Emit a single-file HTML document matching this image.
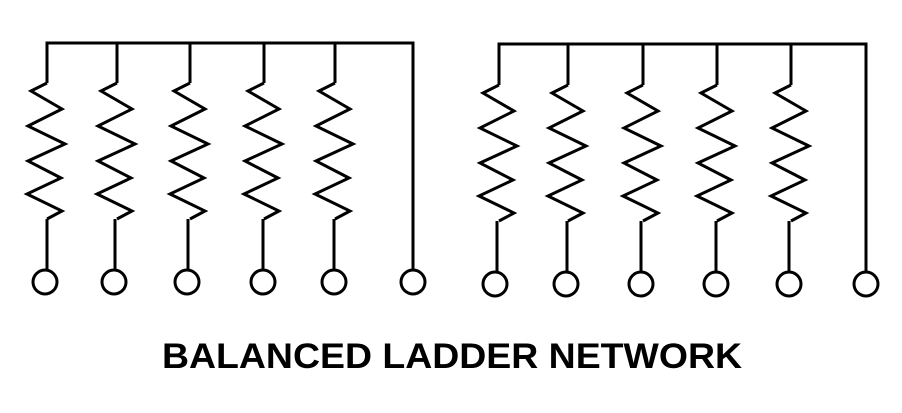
<!DOCTYPE html>
<html><head><style>html,body{margin:0;padding:0;background:#fff;}svg{display:block}</style></head>
<body>
<svg width="902" height="413" viewBox="0 0 902 413" xmlns="http://www.w3.org/2000/svg">
<defs>
<path id="r" d="M0,0 L-16,8 L15,26 L-19,43 L18,61 L-19,78 L14,95 L-20,111 L15,128 L0,136" fill="none" stroke="#000" stroke-width="3" stroke-linejoin="miter"/>
</defs>
<g fill="none" stroke="#000" stroke-width="3">
<!-- left network -->
<path d="M47,83 V43 H413 V270"/>
<path d="M117,43 V83 M190,43 V83 M264,43 V83 M335,43 V83"/>
<path d="M47,219 V270 M115,219 V270 M188,219 V270 M263,219 V270 M334,219 V270"/>
<circle cx="45" cy="282" r="12"/><circle cx="114" cy="282" r="12"/><circle cx="187" cy="282" r="12"/><circle cx="263" cy="282" r="12"/><circle cx="334" cy="282" r="12"/><circle cx="413" cy="282" r="12"/>
<!-- right network -->
<path d="M499,85 V44 H866 V272"/>
<path d="M568,44 V85 M643,44 V85 M717,44 V85 M791,44 V85"/>
<path d="M497,221 V272 M567,221 V272 M641,221 V272 M716,221 V272 M789,221 V272"/>
<circle cx="495" cy="284" r="12"/><circle cx="566" cy="284" r="12"/><circle cx="641" cy="284" r="12"/><circle cx="716" cy="284" r="12"/><circle cx="789" cy="284" r="12"/><circle cx="866" cy="284" r="12"/>
</g>
<use href="#r" x="47" y="83"/><use href="#r" x="117" y="83"/><use href="#r" x="190" y="83"/><use href="#r" x="264" y="83"/><use href="#r" x="335" y="83"/>
<use href="#r" x="499" y="85"/><use href="#r" x="568" y="85"/><use href="#r" x="643" y="85"/><use href="#r" x="717" y="85"/><use href="#r" x="791" y="85"/>
<text x="162" y="368" font-family="Liberation Sans, Arial, sans-serif" font-weight="bold" font-size="35" textLength="580" lengthAdjust="spacingAndGlyphs">BALANCED LADDER NETWORK</text>
</svg>
</body></html>
